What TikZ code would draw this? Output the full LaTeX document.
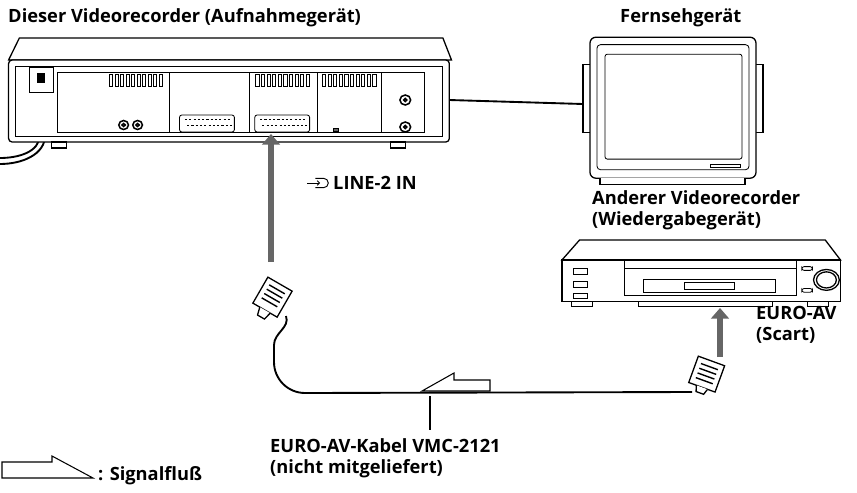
\documentclass[tikz,border=0pt]{standalone}
\usepackage{fontspec}
\setmainfont{Open Sans}
\usetikzlibrary{positioning, arrows.meta}

\begin{document}
\begin{tikzpicture}[x=0.03cm, y=-0.03cm,
            lbl/.style={font=\bfseries\fontsize{15.6}{18}\selectfont, inner sep=0pt, anchor=west, align=left},
            dev/.style={draw, line width=1.1pt, fill=white},
            thin/.style={draw, line width=0.7pt},
            sig/.style={draw=gray!80!black, line width=5pt, -{Triangle[length=9pt, width=15pt]}},
            cable/.style={draw, line width=1.6pt}
        ]
        \useasboundingbox (0,0) rectangle (857,492);

        % recording VCR (rear view)
        \begin{scope}[xscale=1.075]
        \draw[cable] (37,85) -- (37,135) to[out=-90, in=0] (0,158);
        \draw[cable] (42,85) -- (42,135) to[out=-90, in=0] (0,164);
        \draw[dev] (18,38) -- (412,38) -- (420,60) -- (8,60) -- cycle;
        \draw[dev, rounded corners=3pt] (8,60) rectangle (418,142);
        \draw[thin] (14,66) rectangle (412,136);
        \draw[thin] (53,72) -- (53,132) -- (395,132) -- (395,72) -- cycle;
        \foreach \x in {158,232,295,355} \draw[thin] (\x,72) -- (\x,132);
        \draw[thin] (27,67) rectangle (50,92);
        \draw[thin, fill=black] (35,73) rectangle (41,82);
        \foreach \a/\b in {102/153,238/290,300/352}
            \foreach \i in {0,...,9} \draw[thin] ({\a+\i*(\b-\a)/10},74) rectangle ({\a+\i*(\b-\a)/10+3},86);
        \foreach \a in {167,237} {
            \draw[thin, rounded corners=2pt] (\a,115) rectangle (\a+51,132);
            \foreach \i in {0,...,10} \draw[line width=0.4pt] (\a+5+\i*4,119) -- (\a+7+\i*4,119) (\a+7+\i*4,125) -- (\a+9+\i*4,125);
        }
        \foreach \x in {115,128} \draw[line width=1.3pt] (\x,125) circle (4.5) circle (1.5);
        \foreach \y in {100,127} \draw[line width=1.3pt] (377,\y) circle (5) circle (1.5);
        \draw[thin, fill=black!60] (310,128) rectangle (315,131);
        \draw[dev] (48,142) rectangle (62,148) (363,142) rectangle (377,148);
        \coordinate (vcrout) at (418,100);
        \end{scope}

        % television
        \begin{scope}[shift={(-45,-2)}, yscale=1.06]
        \draw[dev] (628,63) rectangle (636,127) (800,63) rectangle (808,127);
        \draw[dev, rounded corners=5pt] (635,37) rectangle (801,170);
        \draw[thin, rounded corners=3pt] (642,44) rectangle (794,162);
        \draw[thin, rounded corners=2pt] (650,53) rectangle (787,152);
        \draw[thin] (755,157) rectangle (785,160);
        \draw[dev] (645,170) -- (645,176) -- (790,176) -- (790,170);
        \coordinate (tvin) at (628,100);
        \end{scope}
        \draw[cable] (vcrout) -- (tvin);

        % playback VCR
        \begin{scope}[shift={(562,240)}, xscale=1.17, yscale=0.95, shift={(-590,-232)}]
        \draw[dev] (605,232) -- (815,232) -- (828,253) -- (590,253) -- cycle;
        \draw[dev] (590,253) rectangle (828,297);
        \draw[thin] (643,253) rectangle (790,290);
        \draw[thin] (643,262) -- (790,262);
        \draw[thin] (660,274) rectangle (772,287);
        \draw[thin] (695,277) rectangle (737,284);
        \foreach \y in {262,276,288} \draw[thin] (600,\y) rectangle (612,\y+6);
        \draw[thin, rounded corners=2pt] (795,260) rectangle (804,264) (795,283) rectangle (804,287);
        \draw[line width=1.1pt] (816,274) circle (11) circle (8.5);
        \draw[dev] (598,297) rectangle (616,302) (800,297) rectangle (818,302);
        \draw[thin] (655,297) -- (655,302) -- (770,302) -- (770,297);
        \end{scope}

        % Scart plugs and cable
        \coordinate (plugA) at (286,316);
        \coordinate (plugB) at (692,392);
        \draw[cable] (plugA) to[out=-70, in=90] (274,345) -- (274,362)
            to[out=-90, in=180] (305,393) -- (plugB);
        \begin{scope}[shift={(272,298)}, rotate=-30]
            \draw[dev] (-14,-16) rectangle (14,14);
            \foreach \y in {-10,-5,0,5} \draw[line width=1.2pt] (-9,\y) -- (9,\y);
            \draw[dev] (-6,14) -- (-4,22) -- (4,22) -- (6,14);
        \end{scope}
        \begin{scope}[shift={(706,376)}, rotate=-20]
            \draw[dev] (-14,-16) rectangle (14,12);
            \foreach \y in {-10,-5,0,5} \draw[line width=1.2pt] (-9,\y) -- (9,\y);
            \draw[dev] (-6,12) -- (-4,18) -- (4,18) -- (6,12);
        \end{scope}

        % signal arrows
        \draw[sig] (271,262) -- (271,134);
        \draw[sig] (720,357) -- (720,308);
        \draw[thin, line width=0.9pt] (422,391) -- (454,373) -- (454,380) -- (490,380) -- (490,391) -- cycle;
        \draw[thin, line width=0.9pt] (430,396) -- (430,430);
        \draw[thin, line width=0.9pt] (2,462) -- (52,462) -- (52,456) -- (93,478) -- (2,478) -- cycle;

        % labels
        \node[lbl] (rec) at (8,18) {Dieser Videorecorder (Aufnahmegerät)};
        \node[lbl] (tv) at (620,18) {Fernsehgerät};
        \node[lbl] (play) at (592,210) {Anderer Videorecorder\\(Wiedergabegerät)};
        \node[lbl] (line) at (333,183) {LINE-2 IN};
        \draw[line width=0.8pt, -{Straight Barb[length=2pt]}] ([xshift=-22pt]line.west) -- ([xshift=-11pt]line.west);
        \draw[line width=0.8pt] ([xshift=-15pt, yshift=4pt]line.west) -- ([xshift=-8pt, yshift=4pt]line.west)
            arc[start angle=90, end angle=-90, radius=4pt] -- ([xshift=-15pt, yshift=-4pt]line.west);
        \node[lbl] (euro) at (756,325) {EURO-AV\\(Scart)};
        \node[lbl] (kabel) at (270,458) {EURO-AV-Kabel VMC-2121\\(nicht mitgeliefert)};
        \node[lbl] (legend) at (98,476) {: Signalfluß};
\end{tikzpicture}
\end{document}
